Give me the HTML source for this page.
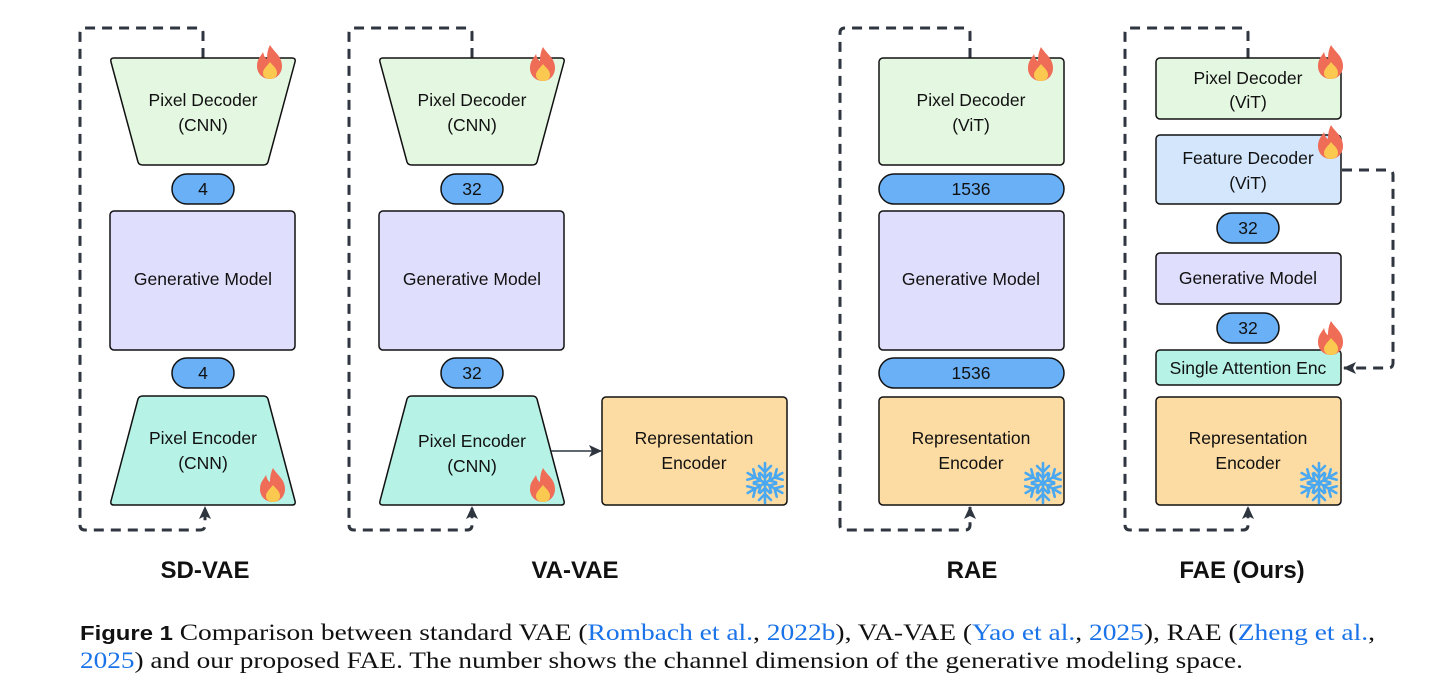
<!DOCTYPE html>
<html><head><meta charset="utf-8"><style>
html,body{margin:0;padding:0;background:#fff;}
svg{display:block}
.t{font-family:"Liberation Sans",sans-serif;font-size:17.5px;fill:#111;text-anchor:middle}
.h{font-family:"Liberation Sans",sans-serif;font-size:24px;font-weight:bold;fill:#111;text-anchor:middle}
.c{font-family:"Liberation Serif",serif;font-size:23px;fill:#111}
.l{fill:#1a73e8}
.box{stroke:#111;stroke-width:1.5}
.d{fill:none;stroke:#2f3640;stroke-width:3;stroke-dasharray:10 7}
</style></head><body>
<svg width="1456" height="692" viewBox="0 0 1456 692" xmlns="http://www.w3.org/2000/svg">
<defs>
<g id="fl">
<path d="M0,-17 C4,-10 12,-6 12,4 C12,12 6,17 0,17 C-7,17 -13,12 -13,4 C-13,-3 -9,-6 -7,-10 C-6,-6 -5,-4 -3,-3 C-3,-9 -2,-13 0,-17Z" fill="#ef6c57"/>
<path d="M0,0 C3,4 7,6 7,11 C7,15 4,17 0,17 C-4,17 -7,15 -7,11 C-7,7 -3,4 0,0Z" fill="#fbc94f"/>
</g>
<g id="sn" stroke="#4aa8f0" stroke-width="2.6" stroke-linecap="round" fill="none">
<g id="arm"><line x1="0" y1="0" x2="0" y2="-20"/><polyline points="-6,-17 0,-11 6,-17"/><polyline points="-5,-10 0,-5 5,-10"/></g>
<use href="#arm" transform="rotate(60)"/><use href="#arm" transform="rotate(120)"/><use href="#arm" transform="rotate(180)"/><use href="#arm" transform="rotate(240)"/><use href="#arm" transform="rotate(300)"/>
</g>
<marker id="ar" markerWidth="14" markerHeight="14" refX="12" refY="7" orient="auto" markerUnits="userSpaceOnUse"><path d="M0,1 L13,7 L0,13 L3,7Z" fill="#2f3640"/></marker>
</defs>

<!-- SD-VAE -->
<path class="d" d="M203,58 V33 Q203,28 198,28 H85 Q80,28 80,33 V525 Q80,530 85,530 H200 Q205,530 205,525 V507" marker-end="url(#ar)"/>
<path class="box" fill="#e3f7e1" d="M114,58 H292 Q296,58 295,62 L268,162 Q267,165 263,165 H143 Q139,165 138,162 L111,62 Q110,58 114,58Z"/>
<text class="t" x="203" y="106">Pixel Decoder</text><text class="t" x="203" y="131">(CNN)</text>
<rect class="box" fill="#6ab0f7" x="172" y="174" width="62" height="30" rx="15"/><text class="t" x="203" y="195">4</text>
<rect class="box" fill="#dfdefc" x="110" y="211" width="185" height="139" rx="4"/><text class="t" x="203" y="285">Generative Model</text>
<rect class="box" fill="#6ab0f7" x="172" y="358" width="62" height="30" rx="15"/><text class="t" x="203" y="379">4</text>
<path class="box" fill="#b6f2e6" d="M143,396 H263 Q267,396 268,399 L295,501 Q296,505 292,505 H114 Q110,505 111,501 L138,399 Q139,396 143,396Z"/>
<text class="t" x="203" y="444">Pixel Encoder</text><text class="t" x="203" y="469">(CNN)</text>
<use href="#fl" x="270" y="62"/><use href="#fl" x="273" y="485"/>
<text class="h" x="205" y="578">SD-VAE</text>

<!-- VA-VAE -->
<path class="d" d="M472,58 V33 Q472,28 467,28 H354 Q349,28 349,33 V525 Q349,530 354,530 H467 Q472,530 472,525 V507" marker-end="url(#ar)"/>
<path class="box" fill="#e3f7e1" d="M383,58 H561 Q565,58 564,62 L537,162 Q536,165 532,165 H412 Q408,165 407,162 L380,62 Q379,58 383,58Z"/>
<text class="t" x="472" y="106">Pixel Decoder</text><text class="t" x="472" y="131">(CNN)</text>
<rect class="box" fill="#6ab0f7" x="441" y="174" width="62" height="30" rx="15"/><text class="t" x="472" y="195">32</text>
<rect class="box" fill="#dfdefc" x="379" y="211" width="185" height="139" rx="4"/><text class="t" x="472" y="285">Generative Model</text>
<rect class="box" fill="#6ab0f7" x="441" y="358" width="62" height="30" rx="15"/><text class="t" x="472" y="379">32</text>
<path class="box" fill="#b6f2e6" d="M412,396 H532 Q536,396 537,399 L564,501 Q565,505 561,505 H383 Q379,505 380,501 L407,399 Q408,396 412,396Z"/>
<text class="t" x="472" y="447">Pixel Encoder</text><text class="t" x="472" y="472">(CNN)</text>
<line x1="551" y1="451" x2="601" y2="451" stroke="#2f3640" stroke-width="1.5" marker-end="url(#ar)"/>
<rect class="box" fill="#fddca3" x="602" y="397" width="185" height="108" rx="4"/>
<text class="t" x="694" y="444">Representation</text><text class="t" x="694" y="469">Encoder</text>
<use href="#fl" x="543" y="64"/><use href="#fl" x="543" y="485"/><use href="#sn" x="765" y="483"/>
<text class="h" x="575" y="578">VA-VAE</text>

<!-- RAE -->
<path class="d" d="M970,58 V33 Q970,28 965,28 H845 Q840,28 840,33 V525 Q840,530 845,530 H965 Q970,530 970,525 V507" marker-end="url(#ar)"/>
<rect class="box" fill="#e3f7e1" x="879" y="58" width="185" height="107" rx="4"/>
<text class="t" x="971" y="106">Pixel Decoder</text><text class="t" x="971" y="131">(ViT)</text>
<rect class="box" fill="#6ab0f7" x="879" y="174" width="185" height="30" rx="15"/><text class="t" x="971" y="195">1536</text>
<rect class="box" fill="#dfdefc" x="879" y="211" width="185" height="139" rx="4"/><text class="t" x="971" y="285">Generative Model</text>
<rect class="box" fill="#6ab0f7" x="879" y="358" width="185" height="30" rx="15"/><text class="t" x="971" y="379">1536</text>
<rect class="box" fill="#fddca3" x="879" y="397" width="185" height="108" rx="4"/>
<text class="t" x="971" y="444">Representation</text><text class="t" x="971" y="469">Encoder</text>
<use href="#fl" x="1041" y="64"/><use href="#sn" x="1043" y="483"/>
<text class="h" x="972" y="578">RAE</text>

<!-- FAE -->
<path class="d" d="M1248,58 V33 Q1248,28 1243,28 H1130 Q1125,28 1125,33 V525 Q1125,530 1130,530 H1243 Q1248,530 1248,525 V507" marker-end="url(#ar)"/>
<path class="d" d="M1342,170 H1388 Q1393,170 1393,175 V363 Q1393,368 1388,368 H1344" marker-end="url(#ar)"/>
<rect class="box" fill="#e3f7e1" x="1156" y="58" width="185" height="61" rx="4"/>
<text class="t" x="1248" y="84">Pixel Decoder</text><text class="t" x="1248" y="108">(ViT)</text>
<rect class="box" fill="#d3e6fc" x="1156" y="135" width="185" height="69" rx="4"/>
<text class="t" x="1248" y="164">Feature Decoder</text><text class="t" x="1248" y="189">(ViT)</text>
<rect class="box" fill="#6ab0f7" x="1217" y="213" width="62" height="30" rx="15"/><text class="t" x="1248" y="234">32</text>
<rect class="box" fill="#dfdefc" x="1156" y="253" width="185" height="51" rx="4"/><text class="t" x="1248" y="284">Generative Model</text>
<rect class="box" fill="#6ab0f7" x="1217" y="313" width="62" height="30" rx="15"/><text class="t" x="1248" y="334">32</text>
<rect class="box" fill="#b6f2e6" x="1156" y="350" width="185" height="35" rx="4"/><text class="t" x="1248" y="374">Single Attention Enc</text>
<rect class="box" fill="#fddca3" x="1156" y="397" width="185" height="108" rx="4"/>
<text class="t" x="1248" y="444">Representation</text><text class="t" x="1248" y="469">Encoder</text>
<use href="#fl" x="1331" y="62"/><use href="#fl" x="1331" y="142"/><use href="#fl" x="1331" y="338"/><use href="#sn" x="1319" y="483"/>
<text class="h" x="1242" y="578">FAE (Ours)</text>

<!-- caption -->
<text class="c" x="80" y="640" textLength="1295" lengthAdjust="spacingAndGlyphs"><tspan font-family="Liberation Sans" font-weight="bold" font-size="20">Figure 1</tspan>   Comparison between standard VAE (<tspan class="l">Rombach et al.</tspan>, <tspan class="l">2022b</tspan>), VA-VAE (<tspan class="l">Yao et al.</tspan>, <tspan class="l">2025</tspan>), RAE (<tspan class="l">Zheng et al.</tspan>,</text>
<text class="c" x="80" y="668" textLength="1163" lengthAdjust="spacingAndGlyphs"><tspan class="l">2025</tspan>) and our proposed FAE. The number shows the channel dimension of the generative modeling space.</text>
</svg>
</body></html>
